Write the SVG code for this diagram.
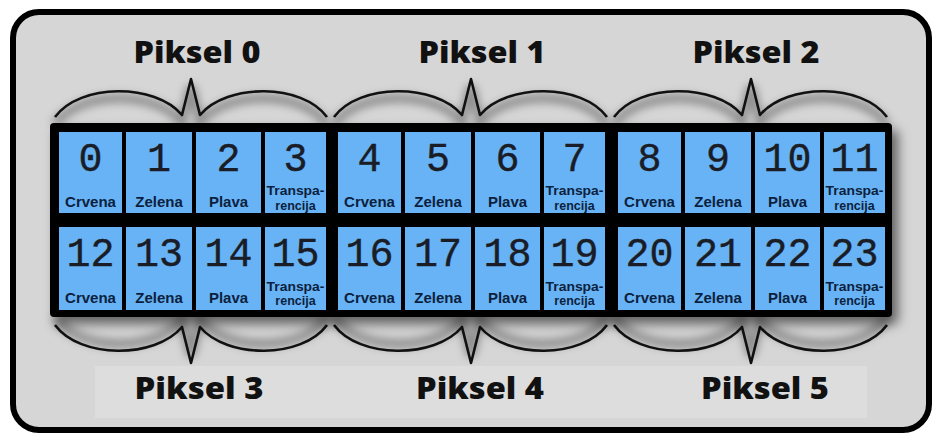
<svg xmlns="http://www.w3.org/2000/svg" width="936" height="434" viewBox="0 0 936 434">
<defs>
<filter id="gridShadow" x="-5%" y="-10%" width="115%" height="130%">
<feDropShadow dx="6" dy="7" stdDeviation="6" flood-color="#000" flood-opacity="0.55"/>
</filter>
<filter id="blur" x="-10%" y="-50%" width="120%" height="200%">
<feGaussianBlur stdDeviation="4"/>
</filter>
<style>
.cell{fill:#67b3f6;}
.num{font-family:"Liberation Mono","DejaVu Sans Mono",monospace;font-size:40px;fill:#1a1c26;stroke:#1a1c26;stroke-width:0.4;text-anchor:middle;}
.lbl{font-family:"Liberation Sans",Arial,sans-serif;font-weight:bold;font-size:15px;fill:#0c1f3d;text-anchor:middle;}
.lbl2{font-family:"Liberation Sans",Arial,sans-serif;font-weight:bold;font-size:12.5px;fill:#0c1f3d;text-anchor:middle;}
.hdr{font-family:"Open Sans",Lato,sans-serif;font-weight:800;font-size:30px;fill:#111;text-anchor:middle;}
.brace{fill:none;stroke:#111;stroke-width:2.6;stroke-linejoin:round;}
.bshadow{fill:none;stroke:#555;stroke-width:9;opacity:0.55;filter:url(#blur);}
</style>
</defs>
<rect x="13" y="12" width="916" height="418" rx="26" fill="#d6d6d6" stroke="#000" stroke-width="6"/>
<rect x="95" y="366" width="772" height="52" fill="#dddddd"/>

<g id="connectors">
<g transform="translate(0,7)">
<path class="bshadow" d="M55,117 C80,83 155,83 182,115 L191,79 L200,115 C227,83 302,83 327,117"/>
<path class="bshadow" d="M334,117 C359,83 435,83 462,115 L471,79 L480,115 C507,83 582,83 607,117"/>
<path class="bshadow" d="M614,117 C639,83 715,83 742,115 L751,79 L760,115 C787,83 862,83 887,117"/>
</g>
<path class="brace" d="M55,117 C80,83 155,83 182,115 L191,79 L200,115 C227,83 302,83 327,117"/>
<path class="brace" d="M334,117 C359,83 435,83 462,115 L471,79 L480,115 C507,83 582,83 607,117"/>
<path class="brace" d="M614,117 C639,83 715,83 742,115 L751,79 L760,115 C787,83 862,83 887,117"/>
<g transform="translate(0,-7)">
<path class="bshadow" d="M55,325 C80,359 155,359 182,327 L191,363 L200,327 C227,359 302,359 327,325"/>
<path class="bshadow" d="M334,325 C359,359 435,359 462,327 L471,363 L480,327 C507,359 582,359 607,325"/>
<path class="bshadow" d="M614,325 C639,359 715,359 742,327 L751,363 L760,327 C787,359 862,359 887,325"/>
</g>
<path class="brace" d="M55,325 C80,359 155,359 182,327 L191,363 L200,327 C227,359 302,359 327,325"/>
<path class="brace" d="M334,325 C359,359 435,359 462,327 L471,363 L480,327 C507,359 582,359 607,325"/>
<path class="brace" d="M614,325 C639,359 715,359 742,327 L751,363 L760,327 C787,359 862,359 887,325"/>
</g>

<g id="headers">
<text class="hdr" x="197" y="63" textLength="127" lengthAdjust="spacingAndGlyphs">Piksel 0</text>
<text class="hdr" x="482" y="63" textLength="127" lengthAdjust="spacingAndGlyphs">Piksel 1</text>
<text class="hdr" x="756" y="63" textLength="127" lengthAdjust="spacingAndGlyphs">Piksel 2</text>
<text class="hdr" x="199" y="399" textLength="129" lengthAdjust="spacingAndGlyphs">Piksel 3</text>
<text class="hdr" x="480" y="399" textLength="128" lengthAdjust="spacingAndGlyphs">Piksel 4</text>
<text class="hdr" x="765" y="399" textLength="128" lengthAdjust="spacingAndGlyphs">Piksel 5</text>
</g>

<rect id="grid" x="50" y="123" width="842" height="194" rx="4" fill="#000" filter="url(#gridShadow)"/>

<g id="cell-0"><rect class="cell" x="59" y="132" width="63" height="81"/><text class="num" x="90.5" y="171">0</text><text class="lbl" x="90.5" y="207">Crvena</text></g>
<g id="cell-1"><rect class="cell" x="126" y="132" width="66" height="81"/><text class="num" x="159" y="171">1</text><text class="lbl" x="159" y="207">Zelena</text></g>
<g id="cell-2"><rect class="cell" x="196" y="132" width="65" height="81"/><text class="num" x="228.5" y="171">2</text><text class="lbl" x="228.5" y="207">Plava</text></g>
<g id="cell-3"><rect class="cell" x="265" y="132" width="61" height="81"/><text class="num" x="295.5" y="171">3</text><text class="lbl2" x="295.5" y="195" textLength="58" lengthAdjust="spacingAndGlyphs">Transpa-</text><text class="lbl2" x="295.5" y="209.5">rencija</text></g>
<g id="cell-4"><rect class="cell" x="338" y="132" width="63" height="81"/><text class="num" x="369.5" y="171">4</text><text class="lbl" x="369.5" y="207">Crvena</text></g>
<g id="cell-5"><rect class="cell" x="405" y="132" width="66" height="81"/><text class="num" x="438" y="171">5</text><text class="lbl" x="438" y="207">Zelena</text></g>
<g id="cell-6"><rect class="cell" x="475" y="132" width="65" height="81"/><text class="num" x="507.5" y="171">6</text><text class="lbl" x="507.5" y="207">Plava</text></g>
<g id="cell-7"><rect class="cell" x="544" y="132" width="61" height="81"/><text class="num" x="574.5" y="171">7</text><text class="lbl2" x="574.5" y="195" textLength="58" lengthAdjust="spacingAndGlyphs">Transpa-</text><text class="lbl2" x="574.5" y="209.5">rencija</text></g>
<g id="cell-8"><rect class="cell" x="618" y="132" width="63" height="81"/><text class="num" x="649.5" y="171">8</text><text class="lbl" x="649.5" y="207">Crvena</text></g>
<g id="cell-9"><rect class="cell" x="685" y="132" width="66" height="81"/><text class="num" x="718" y="171">9</text><text class="lbl" x="718" y="207">Zelena</text></g>
<g id="cell-10"><rect class="cell" x="755" y="132" width="65" height="81"/><text class="num" x="787.5" y="171">10</text><text class="lbl" x="787.5" y="207">Plava</text></g>
<g id="cell-11"><rect class="cell" x="824" y="132" width="61" height="81"/><text class="num" x="854.5" y="171">11</text><text class="lbl2" x="854.5" y="195" textLength="58" lengthAdjust="spacingAndGlyphs">Transpa-</text><text class="lbl2" x="854.5" y="209.5">rencija</text></g>

<g id="cell-12"><rect class="cell" x="59" y="227" width="63" height="83"/><text class="num" x="90.5" y="266">12</text><text class="lbl" x="90.5" y="303">Crvena</text></g>
<g id="cell-13"><rect class="cell" x="126" y="227" width="66" height="83"/><text class="num" x="159" y="266">13</text><text class="lbl" x="159" y="303">Zelena</text></g>
<g id="cell-14"><rect class="cell" x="196" y="227" width="65" height="83"/><text class="num" x="228.5" y="266">14</text><text class="lbl" x="228.5" y="303">Plava</text></g>
<g id="cell-15"><rect class="cell" x="265" y="227" width="61" height="83"/><text class="num" x="295.5" y="266">15</text><text class="lbl2" x="295.5" y="290.5" textLength="58" lengthAdjust="spacingAndGlyphs">Transpa-</text><text class="lbl2" x="295.5" y="305">rencija</text></g>
<g id="cell-16"><rect class="cell" x="338" y="227" width="63" height="83"/><text class="num" x="369.5" y="266">16</text><text class="lbl" x="369.5" y="303">Crvena</text></g>
<g id="cell-17"><rect class="cell" x="405" y="227" width="66" height="83"/><text class="num" x="438" y="266">17</text><text class="lbl" x="438" y="303">Zelena</text></g>
<g id="cell-18"><rect class="cell" x="475" y="227" width="65" height="83"/><text class="num" x="507.5" y="266">18</text><text class="lbl" x="507.5" y="303">Plava</text></g>
<g id="cell-19"><rect class="cell" x="544" y="227" width="61" height="83"/><text class="num" x="574.5" y="266">19</text><text class="lbl2" x="574.5" y="290.5" textLength="58" lengthAdjust="spacingAndGlyphs">Transpa-</text><text class="lbl2" x="574.5" y="305">rencija</text></g>
<g id="cell-20"><rect class="cell" x="618" y="227" width="63" height="83"/><text class="num" x="649.5" y="266">20</text><text class="lbl" x="649.5" y="303">Crvena</text></g>
<g id="cell-21"><rect class="cell" x="685" y="227" width="66" height="83"/><text class="num" x="718" y="266">21</text><text class="lbl" x="718" y="303">Zelena</text></g>
<g id="cell-22"><rect class="cell" x="755" y="227" width="65" height="83"/><text class="num" x="787.5" y="266">22</text><text class="lbl" x="787.5" y="303">Plava</text></g>
<g id="cell-23"><rect class="cell" x="824" y="227" width="61" height="83"/><text class="num" x="854.5" y="266">23</text><text class="lbl2" x="854.5" y="290.5" textLength="58" lengthAdjust="spacingAndGlyphs">Transpa-</text><text class="lbl2" x="854.5" y="305">rencija</text></g>
</svg>
